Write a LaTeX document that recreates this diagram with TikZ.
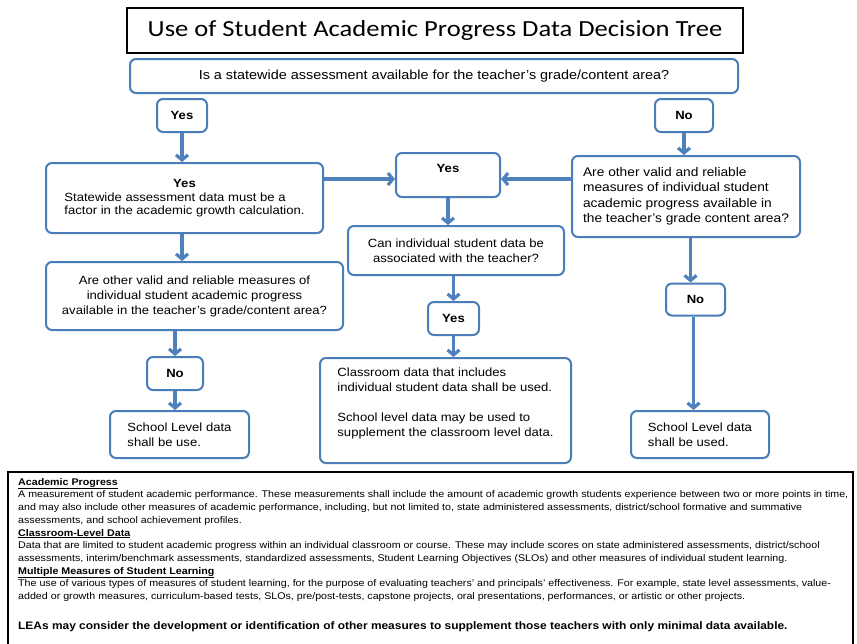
\documentclass[tikz,border=0pt]{standalone}
\usepackage{fontspec}
\setmainfont[FakeStretch=1.1]{Liberation Sans}
\newfontfamily\titlefont[FakeStretch=1.15]{Carlito}
\usetikzlibrary{arrows.meta,calc}
\definecolor{boxblue}{RGB}{74,126,187}
\definecolor{arrblue}{RGB}{79,129,189}
\begin{document}
\begin{tikzpicture}[x=1pt,y=-1pt,
  box/.style={draw=boxblue, line width=2pt, rounded corners=6pt, fill=white,
    inner sep=0pt, font=\fontsize{11.9}{15}\selectfont, align=center},
  smallbox/.style={box, font=\bfseries\fontsize{11.9}{15}\selectfont},
  arr/.style={draw=arrblue, line width=3.2pt, -{Straight Barb[length=5pt,width=12pt]}},
  deftext/.style={anchor=north west, inner sep=0pt, align=left,
    font=\fontsize{9.7}{12.7}\selectfont}
]
\useasboundingbox (0,0) rectangle (857,643);
\fill[white] (0,0) rectangle (857,643);

% title
\node[draw=black, line width=1.2pt, minimum width=616pt, minimum height=45pt, inner sep=0pt,
  font=\titlefont\fontsize{23.1}{24}\selectfont] (title) at (435,30.5)
  {Use of Student Academic Progress Data Decision Tree};

% nodes
\node[box, minimum width=608pt, minimum height=34pt, font=\fontsize{13.1}{15}\selectfont] (q1) at (434,76)
  {Is a statewide assessment available for the teacher’s grade/content area?};
\node[smallbox, minimum width=50pt, minimum height=33pt] (yes1) at (182,115.5) {Yes};
\node[smallbox, minimum width=58pt, minimum height=33pt] (no1) at (684,115.5) {No};

\node[box, minimum width=277pt, minimum height=70pt] (s1) at (184.5,198)
  {\begin{tabular}{@{}l@{}}\multicolumn{1}{@{}c@{}}{\bfseries Yes}\\[-1.5pt]
   Statewide assessment data must be a\\[-1.5pt] factor in the academic growth calculation.\end{tabular}};
\node[box, minimum width=297pt, minimum height=68pt] (q2) at (194.5,296)
  {Are other valid and reliable measures of\\ individual student academic progress\\
   available in the teacher’s grade/content area?};

\node[smallbox, minimum width=104pt, minimum height=44pt, text depth=14pt] (yes2) at (448,175) {Yes};
\node[box, minimum width=228pt, minimum height=81pt, align=left,
  font=\fontsize{12.5}{15.5}\selectfont] (q3) at (686,196.5)
  {Are other valid and reliable\\ measures of individual student\\ academic progress available in\\
   the teacher’s grade content area?};
\node[box, minimum width=216pt, minimum height=49pt] (can) at (456,250.5)
  {Can individual student data be\\ associated with the teacher?};
\node[smallbox, minimum width=51pt, minimum height=33pt] (yes3) at (453.5,318.5) {Yes};

\node[smallbox, minimum width=56pt, minimum height=33pt] (no2) at (175,373.5) {No};
\node[smallbox, minimum width=59pt, minimum height=32pt] (no3) at (695.5,299.5) {No};

\node[box, minimum width=139pt, minimum height=47pt, align=left] (schoolL) at (179.5,434.5)
  {School Level data\\ shall be use.};
\node[box, minimum width=251pt, minimum height=105pt, align=left] (class) at (445.5,410.5)
  {Classroom data that includes\\ individual student data shall be used.\\[15pt]
   School level data may be used to\\ supplement the classroom level data.\\[2pt]};
\node[box, minimum width=138pt, minimum height=47pt, align=left] (schoolR) at (700,434.5)
  {School Level data\\ shall be used.};

% connectors
\draw[arr] (yes1.south) -- (yes1.south |- s1.north);
\draw[arr] (s1.south -| yes1.south) -- (yes1.south |- q2.north);
\draw[arr] (q2.south -| no2.north) -- (no2.north);
\draw[arr] (no2.south) -- (no2.south |- schoolL.north);
\draw[arr] ([yshift=-4pt]yes2.west -| s1.east) -- ([yshift=-4pt]yes2.west);
\draw[arr] ([yshift=-4pt]yes2.east -| q3.west) -- ([yshift=-4pt]yes2.east);
\draw[arr] (yes2.south) -- (yes2.south |- can.north);
\draw[arr] (can.south -| yes3.north) -- (yes3.north);
\draw[arr] (yes3.south) -- (yes3.south |- class.north);
\draw[arr] (no1.south) -- (no1.south |- q3.north);
\draw[arr] ([xshift=-5pt]q3.south -| no3.north) -- ([xshift=-5pt]no3.north);
\draw[arr] ([xshift=-2pt]no3.south) -- ([xshift=-2pt]no3.south |- schoolR.north);

% definitions box
\coordinate (dtl) at (8,472);
\coordinate (dtr) at (853,472);
\draw[line width=1.4pt] (8,644) -- (dtl) -- (dtr) -- (853,644);
\node[deftext] (defs) at (18,478) {%
\underline{\textbf{Academic Progress}}\\
A measurement of student academic performance. These measurements shall include the amount of academic growth students experience between two or more points in time,\\
and may also include other measures of academic performance, including, but not limited to, state administered assessments, district/school formative and summative\\
assessments, and school achievement profiles.\\
\underline{\textbf{Classroom-Level Data}}\\
Data that are limited to student academic progress within an individual classroom or course. These may include scores on state administered assessments, district/school\\
assessments, interim/benchmark assessments, standardized assessments, Student Learning Objectives (SLOs) and other measures of individual student learning.\\
\underline{\textbf{Multiple Measures of Student Learning}}\\
The use of various types of measures of student learning, for the purpose of evaluating teachers’ and principals’ effectiveness. For example, state level assessments, value-\\
added or growth measures, curriculum-based tests, SLOs, pre/post-tests, capstone projects, oral presentations, performances, or artistic or other projects.};
\node[anchor=base west, inner sep=0pt, font=\bfseries\fontsize{10.85}{13}\selectfont] (leas) at (18,629)
  {LEAs may consider the development or identification of other measures to supplement those teachers with only minimal data available.};
\end{tikzpicture}
\end{document}
